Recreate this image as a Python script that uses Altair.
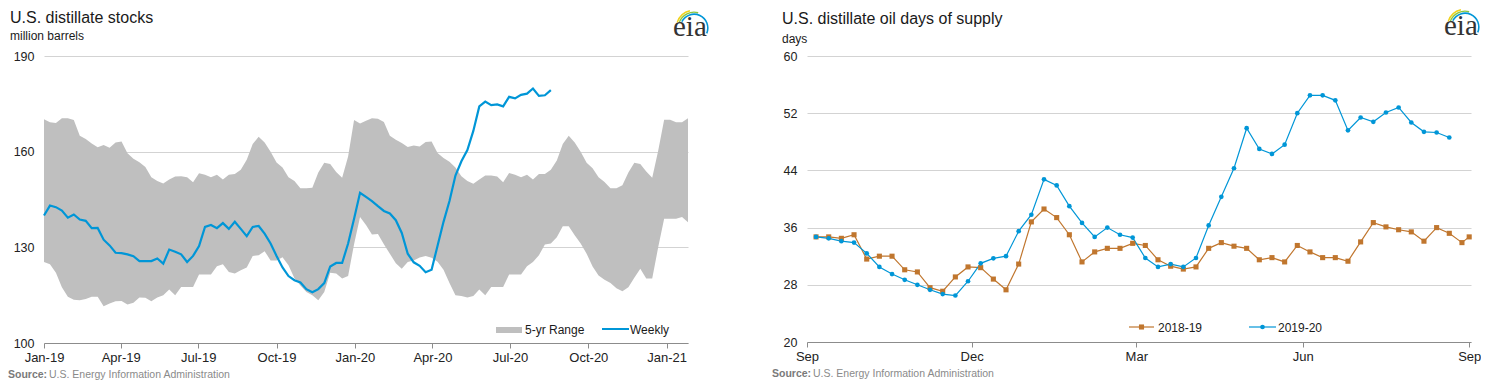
import altair as alt
import pandas as pd

# ---------------- Left panel: U.S. distillate stocks (million barrels), weekly from Jan-2019
weekly_stocks = [140.0, 143.1, 142.6, 141.5, 139.3, 140.3, 138.7, 138.3, 136.0, 136.1,
                 132.4, 130.6, 128.3, 128.2, 127.8, 127.2, 125.7, 125.7, 125.7, 126.5,
                 124.9, 129.3, 128.6, 127.8, 125.4, 127.3, 130.4, 136.4, 137.0, 136.0,
                 137.6, 135.8, 138.0, 135.8, 133.5, 136.4, 136.7, 134.3, 131.2, 127.3,
                 123.7, 121.0, 119.7, 119.0, 116.9, 115.9, 116.9, 118.8, 124.0, 125.1,
                 125.1, 131.2, 139.0, 147.1, 145.8, 144.5, 142.9, 141.4, 140.6, 138.5,
                 134.5, 128.0, 125.3, 124.2, 122.2, 123.0, 130.5, 138.0, 144.5, 152.5,
                 157.0, 160.5, 166.5, 174.2, 175.7, 174.6, 174.8, 174.2, 177.2, 176.7,
                 177.8, 178.2, 179.8, 177.5, 177.7, 179.3]

range_high = [170.2, 169.2, 169.0, 170.5, 170.5, 169.9, 165.0, 164.0, 162.6, 161.4,
              162.1, 161.2, 162.9, 163.2, 159.5, 157.8, 156.7, 155.2, 152.0, 150.8,
              150.0, 151.3, 152.2, 152.3, 152.0, 150.4, 153.2, 152.8, 152.0, 152.8,
              151.3, 152.8, 153.0, 154.3, 157.5, 162.4, 164.7, 162.9, 160.0, 156.6,
              155.0, 152.0, 150.8, 148.5, 148.5, 148.7, 153.5, 156.5, 156.1, 153.6,
              151.8, 158.5, 169.9, 168.8, 169.7, 170.5, 170.3, 169.3, 165.0, 163.7,
              162.7, 161.5, 161.9, 161.6, 163.0, 163.2, 159.6, 158.0, 156.8, 155.0,
              152.3, 150.8, 149.9, 151.3, 152.5, 152.5, 152.2, 150.4, 153.3, 152.8,
              152.0, 152.8, 151.3, 153.0, 153.0, 154.3, 157.2, 162.4, 165.0, 162.9,
              160.0, 156.5, 154.8, 152.0, 150.5, 148.5, 148.5, 149.5, 153.5, 156.5,
              156.1, 153.8, 151.8, 160.3, 170.0, 170.0, 169.2, 169.2, 170.5]

range_low = [125.4, 124.7, 122.0, 117.5, 114.5, 113.6, 113.4, 113.8, 114.5, 114.5,
             111.5, 112.4, 113.1, 113.2, 112.1, 112.6, 114.3, 114.2, 113.1, 114.3,
             115.0, 116.8, 115.0, 117.6, 117.6, 117.6, 121.5, 121.5, 121.5, 124.1,
             124.7, 122.3, 121.8, 122.8, 123.7, 127.3, 127.5, 128.8, 125.9, 125.9,
             126.9, 124.4, 120.3, 118.0, 116.0, 115.0, 113.4, 116.0, 122.0, 121.8,
             120.2, 121.0, 131.0, 139.5, 137.0, 134.0, 134.2, 131.0, 128.0, 125.0,
             123.3, 125.4, 125.9, 126.8, 127.3, 126.7, 125.5, 123.0, 118.8, 115.0,
             114.7, 114.3, 114.7, 116.8, 115.0, 117.6, 117.6, 117.6, 121.5, 121.5,
             121.5, 124.1, 125.4, 127.5, 130.9, 131.2, 133.2, 136.6, 136.6, 133.8,
             131.2, 128.0, 124.0, 121.2, 119.8, 118.8, 117.2, 116.2, 117.5, 120.5,
             123.3, 120.2, 120.2, 130.0, 139.0, 139.0, 139.0, 139.5, 137.9]

left_ticks = ["2019-01-01", "2019-04-01", "2019-07-01", "2019-10-01", "2020-01-01",
              "2020-04-01", "2020-07-01", "2020-10-01", "2021-01-01"]

# ---------------- Right panel: U.S. distillate oil days of supply (days)
days_2018_19 = [34.7, 34.7, 34.5, 35.0, 31.6, 32.0, 32.0, 30.1, 29.8, 27.6,
                27.1, 29.1, 30.5, 30.4, 28.8, 27.3, 30.9, 36.8, 38.6, 37.4,
                35.0, 31.2, 32.6, 33.1, 33.1, 33.8, 33.5, 31.5, 30.6, 30.2,
                30.5, 33.1, 33.9, 33.4, 33.1, 31.5, 31.8, 31.2, 33.5, 32.6,
                31.8, 31.8, 31.3, 34.0, 36.7, 36.1, 35.7, 35.4, 34.1, 36.0,
                35.2, 33.9, 34.7]
days_2019_20 = [34.7, 34.5, 34.1, 33.9, 32.4, 30.5, 29.5, 28.7, 28.0, 27.3,
                26.7, 26.5, 28.5, 31.0, 31.7, 32.0, 35.5, 37.8, 42.75, 41.9,
                39.0, 36.65, 34.7, 36.0, 35.0, 34.6, 31.75, 30.5, 30.9, 30.5,
                31.75, 36.3, 40.3, 44.3, 49.9, 47.0, 46.3, 47.6, 52.0, 54.5,
                54.5, 53.8, 49.6, 51.4, 50.8, 52.1, 52.8, 50.7, 49.4, 49.3,
                48.6]
series_names = ["2018-19", "2019-20"]
right_ticks = ["2019-09-01", "2019-12-01", "2020-03-01", "2020-06-01", "2020-09-01"]

# ---------------- styling
FONT = "Liberation Sans"
SERIF = "Liberation Serif"
BLUE = "#0096d7"
ORANGE = "#c0762e"
BAND = "#bfbfbf"
GRID = "#d3d3d3"
AXIS = "#8c8c8c"
TXT = "#1a1a1a"
SRC = "#8a8a8a"

one = pd.DataFrame({"k": [0]})


def dt(s):
    t = pd.Timestamp(s)
    return alt.DateTime(year=t.year, month=t.month, date=t.day)


def label(s, x, y, size, color=TXT, weight="normal", font=FONT):
    return alt.Chart(one).mark_text(text=s, align="left", baseline="alphabetic",
                                    fontSize=size, font=font, fontWeight=weight,
                                    color=color).encode(x=alt.value(x), y=alt.value(y))


def arc(cx, cy, r_in, r_out, t1, t2, color):
    return alt.Chart(one).mark_arc(radius=r_out, radius2=r_in, color=color).encode(
        x=alt.value(cx), y=alt.value(cy), theta=alt.value(t1), theta2=alt.value(t2))


def top_anchor(y):
    # invisible rule fixing the top edge of the panel's layout box
    return alt.Chart(one).mark_rule(strokeOpacity=0).encode(
        x=alt.value(0), x2=alt.value(1), y=alt.value(y))


def logo(x, base):
    cx, cy = x + 21, base - 8
    return [
        label("eia", x, base, 29, color="#333333", font=SERIF),
        arc(cx, cy, 17.0, 18.4, 5.05, 6.05, "#f0d21c"),
        arc(cx, cy, 15.1, 16.5, 5.10, 6.55, "#8cc63f"),
        arc(cx, cy, 13.0, 14.6, 5.20, 8.25, BLUE),
    ]


def source(x, y):
    return [label("Source:", x, y, 10.5, color="#7a7a7a", weight="bold"),
            label("U.S. Energy Information Administration", x + 41, y, 10.5, color=SRC)]


# ---------------- left chart
LW, LH = 644, 287
stock_dates = pd.date_range("2019-01-01", periods=len(range_high), freq="7D")
band_df = pd.DataFrame({"date": stock_dates, "low": range_low, "high": range_high})
weekly_df = pd.DataFrame({"date": stock_dates[:len(weekly_stocks)], "value": weekly_stocks})

lx = alt.X("date:T", title=None,
           scale=alt.Scale(domain=[dt("2019-01-01"), dt("2021-01-26")]),
           axis=alt.Axis(values=[dt(s) for s in left_ticks], format="%b-%y", grid=False,
                         labelFontSize=13, labelPadding=3, tickSize=5, labelFlush=False))
ly_axis = alt.Axis(values=[100, 130, 160, 190], title=None, grid=True, gridColor=GRID,
                   domain=False, ticks=False, labelPadding=10, labelFontSize=12.5)

band = alt.Chart(band_df).mark_area(color=BAND, opacity=1).encode(
    x=lx,
    y=alt.Y("low:Q", scale=alt.Scale(domain=[100, 190]), axis=ly_axis),
    y2="high:Q")
wline = alt.Chart(weekly_df).mark_line(color=BLUE, strokeWidth=2.2).encode(
    x="date:T", y="value:Q")

left_legend = [
    alt.Chart(one).mark_rect(color=BAND).encode(
        x=alt.value(452), x2=alt.value(478), y=alt.value(271), y2=alt.value(277)),
    label("5-yr Range", 481, 278, 12),
    alt.Chart(one).mark_rule(color=BLUE, strokeWidth=2).encode(
        x=alt.value(558), x2=alt.value(585), y=alt.value(273)),
    label("Weekly", 586, 278, 12),
]

left = alt.layer(
    band, wline,
    top_anchor(-47),
    label("U.S. distillate stocks", -34, -33, 16),
    label("million barrels", -34, -16, 12),
    *source(-36, 322),
    *logo(629, -20),
    *left_legend,
).properties(width=LW, height=LH)

# ---------------- right chart
RW, RH = 664, 286
d1 = list(pd.date_range("2019-09-06", periods=len(days_2018_19) - 1, freq="7D")) + [pd.Timestamp("2020-09-01")]
d2 = list(pd.date_range("2019-09-06", periods=len(days_2019_20), freq="7D"))
days_df = pd.concat([
    pd.DataFrame({"date": d1, "days": days_2018_19, "series": series_names[0]}),
    pd.DataFrame({"date": d2, "days": days_2019_20, "series": series_names[1]}),
])

rx = alt.X("date:T", title=None,
           scale=alt.Scale(domain=[dt("2019-09-01"), dt("2020-09-02")]),
           axis=alt.Axis(values=[dt(s) for s in right_ticks], format="%b", grid=False,
                         labelFontSize=13, labelPadding=3, tickSize=5, labelFlush=False))
ry = alt.Y("days:Q", scale=alt.Scale(domain=[20, 60]),
           axis=alt.Axis(values=[20, 28, 36, 44, 52, 60], title=None, grid=True,
                         gridColor=GRID, domain=False, ticks=False, labelPadding=10,
                         labelFontSize=12.5))
color = alt.Color("series:N", scale=alt.Scale(domain=series_names, range=[ORANGE, BLUE]),
                  legend=None)
shape = alt.Shape("series:N", scale=alt.Scale(domain=series_names, range=["square", "circle"]),
                  legend=None)
size = alt.Size("series:N", scale=alt.Scale(domain=series_names, range=[26, 22]), legend=None)

rlines = alt.Chart(days_df).mark_line(strokeWidth=1.2).encode(x=rx, y=ry, color=color,
                                                                detail="series:N")
rpts = alt.Chart(days_df).mark_point(filled=True, opacity=1).encode(
    x="date:T", y="days:Q", color=color, shape=shape, size=size)

right_legend = [
    alt.Chart(one).mark_rule(color=ORANGE, strokeWidth=1.2).encode(
        x=alt.value(322), x2=alt.value(347), y=alt.value(271)),
    alt.Chart(one).mark_point(shape="square", filled=True, opacity=1, color=ORANGE, size=26).encode(
        x=alt.value(334.5), y=alt.value(271)),
    label("2018-19", 351, 276, 12),
    alt.Chart(one).mark_rule(color=BLUE, strokeWidth=1.2).encode(
        x=alt.value(442), x2=alt.value(469), y=alt.value(271)),
    alt.Chart(one).mark_point(shape="circle", filled=True, opacity=1, color=BLUE, size=22).encode(
        x=alt.value(455.5), y=alt.value(271)),
    label("2019-20", 471, 276, 12),
]

right = alt.layer(
    rlines, rpts,
    top_anchor(-48),
    label("U.S. distillate oil days of supply", -25, -32, 16),
    label("days", -25, -13, 12),
    *source(-35, 321),
    *logo(637, -21),
    *right_legend,
).properties(width=RW, height=RH)

chart = alt.hconcat(left, right, spacing=63).properties(
    padding={"left": 0, "top": 0, "right": 0, "bottom": 0}, background="white"
).configure_view(stroke=None).configure_axis(
    labelFont=FONT, labelColor="#222222", domainColor=AXIS, tickColor=AXIS
)

chart.save("out.html", embed_options={"renderer": "svg", "actions": False})
